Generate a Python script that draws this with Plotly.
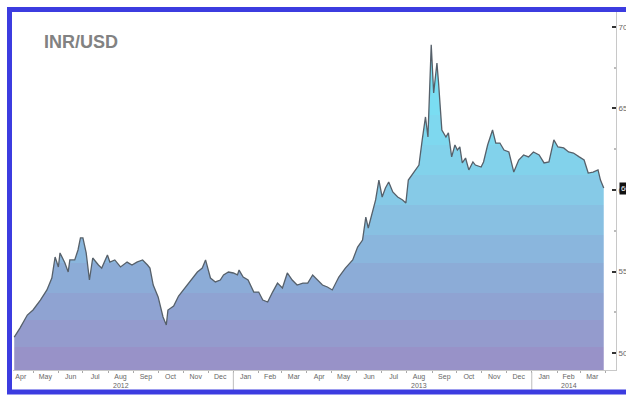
import plotly.graph_objects as go

# INR per USD, Apr 2012 - Mar 2014
dates = [
    "2012-04-08", "2012-04-15", "2012-04-24", "2012-05-01", "2012-05-10", "2012-05-18",
    "2012-05-24", "2012-05-28", "2012-06-01", "2012-06-03", "2012-06-09", "2012-06-13",
    "2012-06-15", "2012-06-21", "2012-06-25", "2012-06-28", "2012-07-01", "2012-07-05",
    "2012-07-09", "2012-07-13", "2012-07-20", "2012-07-24", "2012-07-31", "2012-08-03",
    "2012-08-09", "2012-08-16", "2012-08-24", "2012-08-30", "2012-09-05", "2012-09-12",
    "2012-09-18", "2012-09-21", "2012-09-25", "2012-10-01", "2012-10-07", "2012-10-11",
    "2012-10-13", "2012-10-20", "2012-10-26", "2012-11-01", "2012-11-07", "2012-11-12",
    "2012-11-18", "2012-11-24", "2012-11-28", "2012-12-04", "2012-12-10", "2012-12-16",
    "2012-12-20", "2012-12-26", "2013-01-01", "2013-01-06", "2013-01-08", "2013-01-13",
    "2013-01-19", "2013-01-26", "2013-02-01", "2013-02-06", "2013-02-12", "2013-02-18",
    "2013-02-24", "2013-03-02", "2013-03-08", "2013-03-14", "2013-03-20", "2013-03-27",
    "2013-04-02", "2013-04-08", "2013-04-14", "2013-04-20", "2013-04-26", "2013-05-02",
    "2013-05-10", "2013-05-18", "2013-05-27", "2013-06-02", "2013-06-08", "2013-06-12",
    "2013-06-15", "2013-06-20", "2013-06-24", "2013-06-28", "2013-07-02", "2013-07-06",
    "2013-07-10", "2013-07-15", "2013-07-21", "2013-07-27", "2013-07-31", "2013-08-03",
    "2013-08-09", "2013-08-16", "2013-08-20", "2013-08-24", "2013-08-27", "2013-08-31",
    "2013-09-03", "2013-09-07", "2013-09-09", "2013-09-13", "2013-09-18", "2013-09-21",
    "2013-09-25", "2013-09-29", "2013-10-02", "2013-10-05", "2013-10-08", "2013-10-12",
    "2013-10-16", "2013-10-21", "2013-10-24", "2013-10-31", "2013-11-03", "2013-11-08",
    "2013-11-14", "2013-11-18", "2013-11-23", "2013-11-28", "2013-12-04", "2013-12-10",
    "2013-12-16", "2013-12-22", "2013-12-28", "2014-01-03", "2014-01-10", "2014-01-16",
    "2014-01-22", "2014-01-28", "2014-02-02", "2014-02-09", "2014-02-15", "2014-02-21",
    "2014-02-28", "2014-03-06", "2014-03-11", "2014-03-17", "2014-03-23", "2014-03-26",
    "2014-03-30",
]
rates = [
    50.98, 51.53, 52.33, 52.64, 53.25, 53.87,
    54.60, 55.89, 55.28, 56.14, 55.52, 54.97,
    55.71, 55.71, 56.32, 57.06, 57.06, 56.14,
    54.48, 55.83, 55.40, 55.21, 56.01, 55.58,
    55.71, 55.28, 55.58, 55.40, 55.58, 55.71,
    55.40, 55.21, 54.17, 53.44, 52.21, 51.72,
    52.64, 52.88, 53.50, 53.87, 54.29, 54.60,
    54.97, 55.21, 55.71, 54.60, 54.36, 54.48,
    54.79, 54.97, 54.91, 54.79, 55.09, 54.66,
    54.48, 53.74, 53.74, 53.25, 53.13, 53.74,
    54.29, 53.99, 54.91, 54.48, 54.17, 54.29,
    54.29, 54.79, 54.48, 54.17, 54.05, 53.87,
    54.66, 55.21, 55.71, 56.50, 56.93, 58.34,
    57.67, 58.65, 59.39, 60.61, 59.57, 60.12,
    60.49, 59.88, 59.57, 59.39, 59.20, 60.61,
    61.04, 61.53, 63.07, 64.48, 63.25, 68.90,
    65.95, 67.79, 66.56, 63.68, 63.25, 63.50,
    62.03, 62.76, 62.45, 62.64, 61.66, 61.96,
    61.23, 61.72, 61.53, 61.41, 61.72, 62.76,
    63.68, 62.88, 62.88, 62.45, 62.33, 61.10,
    61.84, 62.15, 62.03, 62.33, 62.15, 61.66,
    61.72, 63.07, 62.64, 62.58, 62.33, 62.27,
    62.03, 61.84, 61.04, 61.10, 61.23, 60.61,
    60.12,
]

month_ticks = [
    "2012-04-16", "2012-05-16", "2012-06-16", "2012-07-16", "2012-08-16", "2012-09-16",
    "2012-10-16", "2012-11-16", "2012-12-16", "2013-01-16", "2013-02-15", "2013-03-16",
    "2013-04-16", "2013-05-16", "2013-06-16", "2013-07-16", "2013-08-16", "2013-09-16",
    "2013-10-16", "2013-11-16", "2013-12-16", "2014-01-16", "2014-02-15", "2014-03-16",
]
month_labels = [
    "Apr", "May", "Jun", "Jul", "Aug", "Sep", "Oct", "Nov", "Dec", "Jan", "Feb", "Mar",
    "Apr", "May", "Jun", "Jul", "Aug", "Sep", "Oct", "Nov", "Dec", "Jan", "Feb", "Mar",
]
year_positions = ["2012-08-16", "2013-08-16", "2014-02-15"]
year_labels = ["2012", "2013", "2014"]
year_breaks = ["2013-01-01", "2014-01-01"]
y_ticks = [50, 55, 60, 65, 70]

# banded area shading, bottom to top
Y_MIN, Y_MAX = 48.96, 71.04
band_edges = [48.96, 50.37, 52.02, 53.68, 55.52, 57.24, 59.08, 60.92, 62.76, 64.60,
              66.44, 68.28, 69.50]
band_colors = [
    "rgb(152,146,200)", "rgb(148,155,205)", "rgb(143,163,210)", "rgb(140,172,215)",
    "rgb(138,182,221)", "rgb(136,192,226)", "rgb(134,202,231)", "rgb(130,210,235)",
    "rgb(126,216,239)", "rgb(122,221,242)", "rgb(118,225,245)", "rgb(115,228,247)",
]

W, H = 626, 396
ML, MR, MT, MB = 13, 10, 10, 26
pw, ph = W - ML - MR, H - MT - MB


def px_x(px):
    return (px - ML) / pw


def px_y(py):
    return (H - MB - py) / ph


g0, g1 = band_edges[0], band_edges[-1]
stepped = []
for i, col in enumerate(band_colors):
    a = (band_edges[i] - g0) / (g1 - g0)
    b = (band_edges[i + 1] - g0) / (g1 - g0)
    stepped.append([a, col])
    stepped.append([b, col])

fig = go.Figure()
fig.add_trace(go.Scatter(
    x=dates, y=rates, mode="lines",
    line=dict(color="#56606a", width=1.3),
    fill="tozeroy",
    fillgradient=dict(type="vertical", colorscale=stepped, start=g0, stop=g1),
    hoverinfo="skip", showlegend=False,
))

shapes = []
for d in year_breaks:
    shapes.append(dict(type="line", xref="x", yref="paper", x0=d, x1=d,
                       y0=px_y(372), y1=px_y(390), line=dict(color="#bdbdbd", width=1)))
# blue frame around the whole chart
shapes.append(dict(type="rect", xref="paper", yref="paper",
                   x0=px_x(9.5), x1=px_x(660), y0=px_y(392), y1=px_y(9.5),
                   line=dict(color="#3c3ce0", width=5), fillcolor="rgba(0,0,0,0)",
                   layer="above"))

annotations = [
    dict(text="<b>INR/USD</b>", xref="paper", yref="paper", x=px_x(42), y=px_y(42),
         xanchor="left", yanchor="middle", showarrow=False,
         font=dict(family="Liberation Sans", size=18, color="#828282")),
    dict(text=f"{rates[-1]:.2f}", xref="paper", yref="y", x=px_x(619), y=rates[-1],
         xanchor="left", yanchor="middle", showarrow=False, bgcolor="#111111",
         borderpad=1, font=dict(family="Liberation Sans", size=8, color="#ffffff")),
]
for pos, lab in zip(year_positions, year_labels):
    annotations.append(dict(text=lab, xref="x", yref="paper", x=pos, y=px_y(385),
                            xanchor="center", yanchor="middle", showarrow=False,
                            font=dict(family="Liberation Sans", size=7, color="#666666")))

fig.update_layout(
    width=W, height=H,
    margin=dict(l=ML, r=MR, t=MT, b=MB, autoexpand=False),
    paper_bgcolor="white", plot_bgcolor="white",
    shapes=shapes, annotations=annotations,
    xaxis=dict(
        type="date", range=["2012-04-06 12:00", "2014-04-14"],
        tickmode="array", tickvals=month_ticks, ticktext=month_labels,
        ticks="", showgrid=False, zeroline=False,
        showline=True, linecolor="#c8c8c8", linewidth=1,
        tickfont=dict(family="Liberation Sans", size=7, color="#666666"),
        minor=dict(ticks="outside", ticklen=2, tickcolor="#aaaaaa", dtick="M1",
                   tick0="2012-04-01", showgrid=False),
    ),
    yaxis=dict(
        side="right", range=[Y_MIN, Y_MAX],
        tickmode="array", tickvals=y_ticks,
        ticks="inside", ticklen=4, tickwidth=2, tickcolor="#333333",
        showgrid=False, zeroline=False,
        showline=True, linecolor="#c8c8c8", linewidth=1,
        tickfont=dict(family="Liberation Sans", size=8, color="#666666"),
        minor=dict(ticks="inside", ticklen=2, tickcolor="#bbbbbb", dtick=2.5,
                   showgrid=False),
    ),
)

fig.write_html("out.html")
